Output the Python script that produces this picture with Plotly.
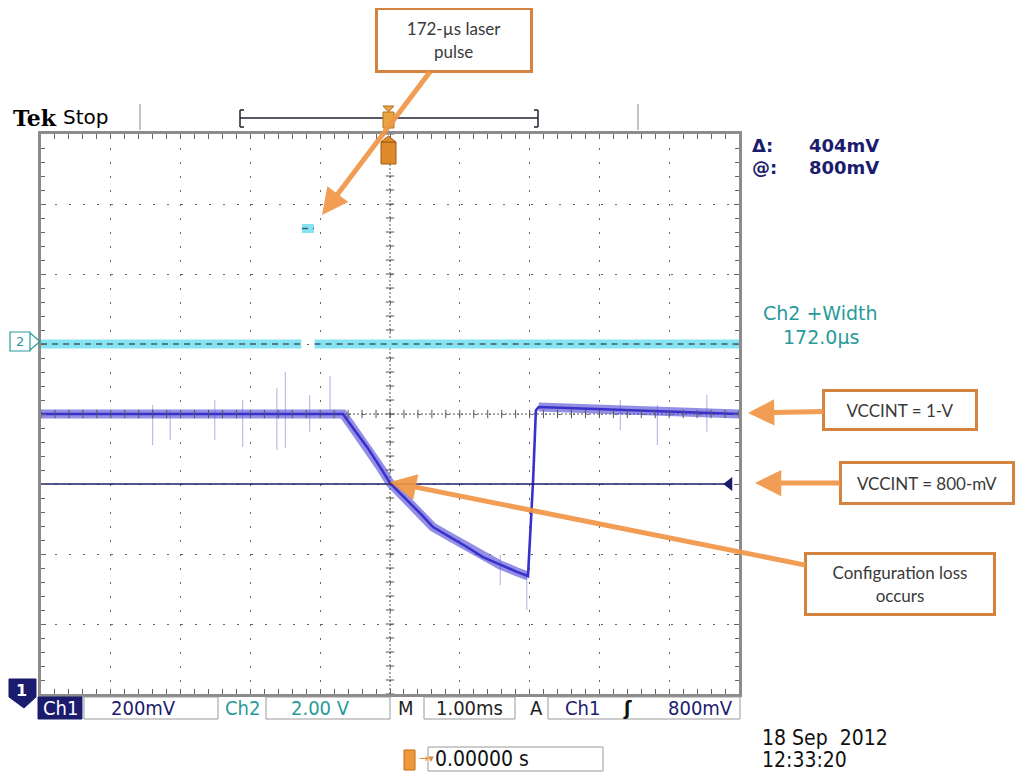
import plotly.graph_objects as go
import numpy as np

# Ch1 : VCCINT supply, 200 mV/div, time in ms (1.00 ms/div, trigger at 0)
ch1_time_ms = [-5.0, -0.673, -0.53, -0.33, -0.143, 0.0, 0.143, 0.287, 0.458, 0.616, 0.86, 1.103, 1.332,
               1.576, 1.819, 1.977, 2.05, 2.09, 2.13, 5.0]
ch1_volts = [1.0, 1.0, 0.960, 0.906, 0.849, 0.803, 0.774, 0.746, 0.711, 0.677, 0.649, 0.620, 0.591,
             0.569, 0.549, 0.537, 0.81, 1.01, 1.02, 1.0]

# Ch1 noise glitches: time, low, high
spike_time_ms = [-3.40, -3.15, -2.51, -2.11, -1.62, -1.50, -1.15, -0.86, 1.58, 1.96, 3.30, 3.83, 4.54]
spike_low_v = [0.911, 0.926, 0.926, 0.906, 0.897, 0.903, 0.949, 1.011, 0.511, 0.440, 0.954, 0.911, 0.949]
spike_high_v = [1.026, 1.011, 1.040, 1.040, 1.074, 1.120, 1.054, 1.109, 0.597, 0.540, 1.040, 1.026, 1.054]

# Ch2 : laser trigger, 2.00 V/div, 172 us pulse
ch2_time_ms = [-5.0, -1.27, None, -1.262, -1.090, None, -1.08, 5.0]
ch2_volts = [0.0, 0.0, None, 3.3, 3.3, None, 0.0, 0.0]

trigger_level_v = 0.8
ch1_center_v = 1.0

# ---------------- geometry helpers (screen pixels) ----------------
SW, SH = 1023, 774          # browser window
OX, OY = 8, 8               # default page body margin
W, H = SW - OX, SH - OY     # figure size
L, R, T, B = 41, 739, 134, 694   # plot area in screen pixels


def fx(x):
    return (x - L) / (R - L)


def fy(y):
    return (B - y) / (B - T)


NAVY = "#1c1c6e"
TEAL = "#2a9a9a"
ORANGE_BOX = "#d4843e"
ORANGE_ARROW = "rgba(240,150,70,0.92)"
SCOPE_FONT = "DejaVu Sans Condensed, Liberation Sans Narrow, DejaVu Sans"

fig = go.Figure()

# noise spikes
sx, sy = [], []
for t, lo, hi in zip(spike_time_ms, spike_low_v, spike_high_v):
    sx += [t, t, None]
    sy += [lo, hi, None]
fig.add_trace(go.Scatter(x=sx, y=sy, mode="lines", line=dict(color="rgba(110,110,215,0.55)", width=1),
                         hoverinfo="skip", showlegend=False))

# Ch1 band (omit the fast recovery edge from the thick band)
band_v = [v if not (1.99 < t < 2.12) else None for t, v in zip(ch1_time_ms, ch1_volts)]
fig.add_trace(go.Scatter(x=ch1_time_ms, y=band_v, mode="lines", connectgaps=False,
                         line=dict(color="rgba(75,68,212,0.6)", width=9), showlegend=False, hoverinfo="skip"))
fig.add_trace(go.Scatter(x=ch1_time_ms, y=ch1_volts, mode="lines",
                         line=dict(color="#3a30cc", width=2.6), showlegend=False, name="Ch1"))

# Ch2 trace
fig.add_trace(go.Scatter(x=ch2_time_ms, y=ch2_volts, yaxis="y2", mode="lines", connectgaps=False,
                         line=dict(color="#86e4f2", width=9), showlegend=False, hoverinfo="skip"))
fig.add_trace(go.Scatter(x=ch2_time_ms, y=ch2_volts, yaxis="y2", mode="lines", connectgaps=False,
                         line=dict(color="#3d5d72", width=1.4, dash="6px,5px"), showlegend=False, name="Ch2"))

# cursor / trigger level line
fig.add_trace(go.Scatter(x=[-5, 4.82], y=[trigger_level_v, trigger_level_v], mode="lines",
                         line=dict(color=NAVY, width=1.6), showlegend=False, hoverinfo="skip"))
fig.add_trace(go.Scatter(x=[4.86], y=[trigger_level_v], mode="markers",
                         marker=dict(symbol="triangle-left", size=12, color=NAVY), showlegend=False, hoverinfo="skip"))

# center cross tick marks
cx = np.arange(-5, 5.001, 0.2)
fig.add_trace(go.Scatter(x=cx, y=[ch1_center_v] * len(cx), mode="markers",
                         marker=dict(symbol="line-ns", size=6, line=dict(color="#555", width=1)),
                         showlegend=False, hoverinfo="skip"))
cy = np.arange(0.2, 1.801, 0.04)
fig.add_trace(go.Scatter(x=[0] * len(cy), y=cy, mode="markers",
                         marker=dict(symbol="line-ew", size=6, line=dict(color="#555", width=1)),
                         showlegend=False, hoverinfo="skip"))

shapes = []
# center dotted lines
shapes.append(dict(type="line", xref="x", yref="y", x0=-5, x1=5, y0=ch1_center_v, y1=ch1_center_v,
                   line=dict(color="#555", width=1, dash="2px,2px"), layer="below"))
shapes.append(dict(type="line", xref="x", yref="y", x0=0, x1=0, y0=0.2, y1=1.8,
                   line=dict(color="#555", width=1, dash="2px,2px"), layer="below"))


def rect(x0, y0, x1, y1, fill="white", line="#999", lw=1):
    shapes.append(dict(type="rect", xref="paper", yref="paper", x0=fx(x0), x1=fx(x1), y0=fy(y1), y1=fy(y0),
                       fillcolor=fill, line=dict(color=line, width=lw), layer="above"))


def seg(x0, y0, x1, y1, color="#999", lw=1):
    shapes.append(dict(type="line", xref="paper", yref="paper", x0=fx(x0), x1=fx(x1), y0=fy(y0), y1=fy(y1),
                       line=dict(color=color, width=lw)))


def path(pts, fill, line, lw=1):
    d = "M " + " L ".join(f"{fx(a):.5f},{fy(b):.5f}" for a, b in pts) + " Z"
    shapes.append(dict(type="path", xref="paper", yref="paper", path=d, fillcolor=fill,
                       line=dict(color=line, width=lw)))


# top bar
seg(140, 104, 140, 130, "#888", 1)
seg(638, 104, 638, 130, "#888", 1)
seg(240, 118, 538, 118, "#223", 1.5)
seg(240, 110, 240, 127, "#223", 1.5)
seg(240, 110, 244, 110, "#223", 1.5)
seg(240, 127, 244, 127, "#223", 1.5)
seg(538, 110, 538, 127, "#223", 1.5)
seg(534, 110, 538, 110, "#223", 1.5)
seg(534, 127, 538, 127, "#223", 1.5)
rect(383, 112, 394, 128, fill="#e8a640", line="#b07020", lw=1)
path([(383, 106), (394, 106), (388.5, 112)], "#e8a640", "#b07020")
rect(381, 142, 396, 164, fill="#e08a2c", line="#a05a10", lw=1)
path([(381, 142), (396, 142), (388.5, 136)], "#e08a2c", "#a05a10")

# Ch2 ground marker
rect(10, 332, 30, 351, fill="white", line=TEAL, lw=1.2)
seg(30, 333, 40, 341.5, TEAL, 1.2)
seg(30, 350, 40, 341.5, TEAL, 1.2)
# Ch1 marker
path([(9, 679), (36, 679), (36, 697), (24, 708), (9, 697)], NAVY, NAVY)

# bottom status bar
rect(38, 697, 82, 719, fill=NAVY, line=NAVY)
rect(84, 697, 218, 719)
rect(266, 697, 390, 719)
rect(424, 697, 515, 719)
rect(548, 697, 740, 719)
# trigger position readout
rect(404, 750, 415, 770, fill="#ee9a3a", line="#c06a10")
rect(428, 747, 603, 771)

annotations = []


def txt(x, y, s, size=17, color=NAVY, family=SCOPE_FONT, anchor="center", bold=False):
    if bold:
        s = f"<b>{s}</b>"
    annotations.append(dict(x=fx(x), y=fy(y), xref="paper", yref="paper", text=s, showarrow=False,
                            xanchor=anchor, yanchor="middle", font=dict(size=size, color=color, family=family)))


txt(11, 118, "<b>Tek</b>", 22, "black", "DejaVu Serif, Liberation Serif", "left")
txt(61, 117, "Stop", 20, "black", "DejaVu Sans", "left")

txt(60, 708, "Ch1", 20, "white")
txt(143, 708, "200mV", 20, NAVY)
txt(242, 708, "Ch2", 20, TEAL)
txt(320, 708, "2.00 V", 20, TEAL)
txt(406, 708, "M", 20, "#222")
txt(469, 708, "1.00ms", 20, "#222")
txt(536, 708, "A", 20, "#222")
txt(582, 708, "Ch1", 20, NAVY)
txt(627, 708, "ʃ", 20, "#111", bold=True)
txt(700, 708, "800mV", 20, NAVY)

txt(417, 758, "→▾", 11, "#e08a2c", "DejaVu Sans", "left")
txt(433, 759, "0.00000 s", 21, "#111", anchor="left")

txt(760, 738, "18 Sep  2012", 21, "#111", anchor="left")
txt(760, 760, "12:33:20", 21, "#111", anchor="left")

txt(750, 145, "Δ:", 18, NAVY, "DejaVu Sans", "left", bold=True)
txt(750, 167, "@:", 18, NAVY, "DejaVu Sans", "left", bold=True)
txt(881, 145, "404mV", 18, NAVY, "DejaVu Sans", "right", bold=True)
txt(881, 167, "800mV", 18, NAVY, "DejaVu Sans", "right", bold=True)
txt(820, 313, "Ch2 +Width", 19, TEAL, "DejaVu Sans")
txt(821, 337, "172.0µs", 19, TEAL, "DejaVu Sans")

txt(20, 341.5, "2", 13, TEAL, "DejaVu Sans")
txt(21, 690, "<b>1</b>", 16, "white", "DejaVu Sans")


def callout(text, bx, by, tx, ty, w, h):
    annotations.append(dict(x=fx(tx), y=fy(ty), xref="paper", yref="paper", text=text,
                            showarrow=True, axref="pixel", ayref="pixel", ax=bx - tx, ay=by - ty,
                            arrowhead=2, arrowsize=1.05, arrowwidth=5, arrowcolor=ORANGE_ARROW,
                            bordercolor=ORANGE_BOX, borderwidth=3, borderpad=2, bgcolor="white",
                            width=w, height=h, align="center", valign="middle",
                            font=dict(family="Lato, Open Sans, sans-serif", size=17, color="#3a3a3a")))


callout("172-µs laser<br>pulse", 454, 40, 322, 215, 148, 56)
callout("VCCINT = 1-V", 900, 410, 748, 413, 146, 32)
callout("VCCINT = 800-mV", 927, 483, 755, 483, 166, 34)
callout("Configuration loss<br>occurs", 900, 584, 390, 482, 182, 54)

axis_common = dict(showgrid=True, gridcolor="#666", gridwidth=1, griddash="2px,12px", zeroline=False,
                   showline=True, mirror="allticks", linecolor="#8c8c8c", linewidth=3,
                   ticks="inside", ticklen=5, tickcolor="#666", tickwidth=1,
                   showticklabels=False, fixedrange=True)

fig.update_layout(
    width=W, height=H,
    margin=dict(l=L - OX, r=SW - R, t=T - OY, b=SH - B, pad=0),
    paper_bgcolor="white", plot_bgcolor="white",
    xaxis=dict(range=[-5, 5], tick0=0, dtick=1,
               minor=dict(dtick=0.2, ticks="inside", ticklen=4, tickcolor="#666", showgrid=False),
               **axis_common),
    yaxis=dict(range=[0.2, 1.8], tick0=0.2, dtick=0.2,
               minor=dict(dtick=0.04, ticks="inside", ticklen=4, tickcolor="#666", showgrid=False),
               **axis_common),
    yaxis2=dict(range=[-10, 6], overlaying="y", visible=False, fixedrange=True),
    shapes=shapes,
    annotations=annotations,
    showlegend=False,
)

fig.write_html("out.html")
